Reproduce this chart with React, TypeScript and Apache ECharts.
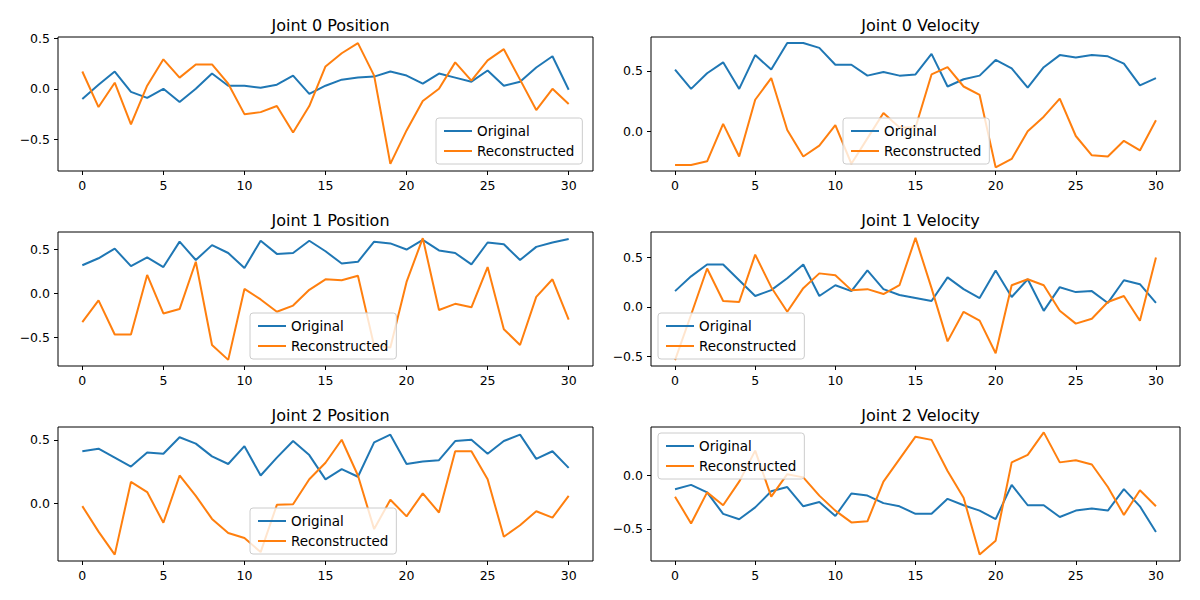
import { useEffect, useRef } from "react";
import * as echarts from "echarts";

const titles = ["Joint 0 Position", "Joint 0 Velocity", "Joint 1 Position", "Joint 1 Velocity", "Joint 2 Position", "Joint 2 Velocity"];
const xTicks = [0, 5, 10, 15, 20, 25, 30];

const j0PosOrig = [-0.10, 0.04, 0.17, -0.03, -0.09, 0.00, -0.13, 0.00, 0.15, 0.03, 0.03, 0.01, 0.04, 0.13, -0.05, 0.03, 0.09, 0.11, 0.12, 0.17, 0.13, 0.05, 0.15, 0.11, 0.07, 0.18, 0.03, 0.07, 0.21, 0.32, -0.01];
const j0PosRec = [0.17, -0.18, 0.06, -0.35, 0.03, 0.29, 0.11, 0.24, 0.24, 0.05, -0.25, -0.23, -0.17, -0.43, -0.17, 0.22, 0.35, 0.45, 0.13, -0.74, -0.41, -0.12, 0.00, 0.26, 0.08, 0.28, 0.39, 0.09, -0.21, 0.00, -0.15];
const j0VelOrig = [0.51, 0.35, 0.48, 0.57, 0.35, 0.63, 0.51, 0.73, 0.73, 0.69, 0.55, 0.55, 0.46, 0.49, 0.46, 0.47, 0.64, 0.37, 0.43, 0.46, 0.59, 0.52, 0.36, 0.53, 0.63, 0.61, 0.63, 0.62, 0.56, 0.38, 0.44];
const j0VelRec = [-0.28, -0.28, -0.25, 0.06, -0.21, 0.26, 0.44, 0.01, -0.21, -0.12, 0.05, -0.27, -0.06, 0.15, 0.03, 0.03, 0.47, 0.53, 0.37, 0.30, -0.30, -0.23, 0.00, 0.12, 0.27, -0.04, -0.20, -0.21, -0.08, -0.16, 0.09];
const j1PosOrig = [0.32, 0.40, 0.51, 0.31, 0.41, 0.30, 0.59, 0.38, 0.55, 0.46, 0.29, 0.60, 0.45, 0.46, 0.60, 0.48, 0.34, 0.36, 0.59, 0.57, 0.50, 0.61, 0.49, 0.46, 0.33, 0.58, 0.56, 0.38, 0.53, 0.58, 0.62];
const j1PosRec = [-0.33, -0.08, -0.47, -0.47, 0.21, -0.23, -0.18, 0.36, -0.59, -0.76, 0.05, -0.07, -0.21, -0.14, 0.04, 0.16, 0.15, 0.20, -0.60, -0.62, 0.13, 0.63, -0.19, -0.12, -0.16, 0.30, -0.41, -0.59, -0.04, 0.16, -0.30];
const j1VelOrig = [0.16, 0.31, 0.43, 0.43, 0.27, 0.11, 0.17, 0.29, 0.43, 0.11, 0.22, 0.16, 0.37, 0.18, 0.12, 0.09, 0.06, 0.30, 0.18, 0.09, 0.37, 0.10, 0.28, -0.04, 0.20, 0.15, 0.16, 0.04, 0.27, 0.23, 0.04];
const j1VelRec = [-0.54, -0.08, 0.39, 0.06, 0.05, 0.53, 0.20, -0.05, 0.19, 0.34, 0.32, 0.17, 0.18, 0.13, 0.22, 0.70, 0.19, -0.35, -0.05, -0.14, -0.47, 0.22, 0.28, 0.22, -0.04, -0.17, -0.12, 0.05, 0.11, -0.14, 0.50];
const j2PosOrig = [0.41, 0.43, 0.36, 0.29, 0.40, 0.39, 0.52, 0.47, 0.37, 0.31, 0.45, 0.22, 0.36, 0.49, 0.38, 0.19, 0.27, 0.21, 0.48, 0.54, 0.31, 0.33, 0.34, 0.49, 0.50, 0.39, 0.49, 0.54, 0.35, 0.41, 0.28];
const j2PosRec = [-0.02, -0.22, -0.40, 0.17, 0.09, -0.15, 0.22, 0.06, -0.12, -0.23, -0.27, -0.38, -0.01, -0.005, 0.19, 0.32, 0.50, 0.22, -0.20, 0.03, -0.10, 0.08, -0.07, 0.41, 0.41, 0.19, -0.26, -0.17, -0.06, -0.11, 0.06];
const j2VelOrig = [-0.13, -0.09, -0.16, -0.36, -0.41, -0.30, -0.15, -0.11, -0.29, -0.25, -0.38, -0.17, -0.19, -0.26, -0.29, -0.36, -0.36, -0.22, -0.28, -0.33, -0.41, -0.09, -0.28, -0.28, -0.39, -0.33, -0.31, -0.33, -0.13, -0.29, -0.53];
const j2VelRec = [-0.20, -0.45, -0.16, -0.28, -0.06, 0.23, -0.20, 0.01, -0.02, -0.19, -0.33, -0.44, -0.43, -0.06, 0.15, 0.36, 0.33, 0.04, -0.21, -0.74, -0.61, 0.12, 0.19, 0.40, 0.12, 0.14, 0.10, -0.11, -0.37, -0.14, -0.29];

const originals = [j0PosOrig, j0VelOrig, j1PosOrig, j1VelOrig, j2PosOrig, j2VelOrig];
const recons = [j0PosRec, j0VelRec, j1PosRec, j1VelRec, j2PosRec, j2VelRec];
const yMins = [-0.81, -0.33, -0.83, -0.60, -0.45, -0.80];
const yMaxs = [0.51, 0.78, 0.70, 0.76, 0.60, 0.45];
const yTicks = [[-0.5, 0, 0.5], [0, 0.5], [-0.5, 0, 0.5], [-0.5, 0, 0.5], [0, 0.5], [-0.5, 0]];

const lefts = [58, 651];
const widths = [535, 529];
const tops = [37, 232, 427];
const gridHeight = 134;
// legend box corners (left, top) per panel
const legendPos = [[436, 118], [843, 118], [250, 313], [658, 313], [250, 508], [658, 433]];

const fmt = (v: number) => (Math.abs(v) < 1e-9 ? "0.0" : v.toFixed(1).replace("-", "\u2212"));
const font = "DejaVu Sans";

function App() {
  const chartRef = useRef<HTMLDivElement>(null);
  useEffect(() => {
    document.body.style.margin = "0";
    const chart = echarts.init(chartRef.current, null, { renderer: "svg" });
    const grid: any[] = [];
    const xAxis: any[] = [];
    const yAxis: any[] = [];
    const series: any[] = [];
    const title: any[] = [];
    const legend: any[] = [];
    titles.forEach((t, i) => {
      const col = i % 2;
      const row = Math.floor(i / 2);
      grid.push({
        left: lefts[col], top: tops[row], width: widths[col], height: gridHeight,
        show: true, borderColor: "#000", borderWidth: 1, containLabel: false,
      });
      title.push({
        text: t, left: lefts[col] + widths[col] / 2, top: tops[row] - 25, textAlign: "center",
        textStyle: { fontFamily: font, fontSize: 16, fontWeight: "normal", color: "#000" },
      });
      xAxis.push({
        type: "value", gridIndex: i, min: -1.5, max: 31.5,
        axisLine: { show: false, onZero: false }, splitLine: { show: false },
        axisTick: { show: true, customValues: xTicks, length: 4, lineStyle: { color: "#000" } },
        axisLabel: { customValues: xTicks, color: "#000", fontFamily: font, fontSize: 12.5, margin: 8 },
      });
      yAxis.push({
        type: "value", gridIndex: i, min: yMins[i], max: yMaxs[i],
        axisLine: { show: false, onZero: false }, splitLine: { show: false },
        axisTick: { show: true, customValues: yTicks[i], length: 4, lineStyle: { color: "#000" } },
        axisLabel: { customValues: yTicks[i], color: "#000", fontFamily: font, fontSize: 12.5, margin: 8, formatter: fmt },
      });
      series.push({
        name: "Original", type: "line", xAxisIndex: i, yAxisIndex: i, showSymbol: false,
        data: originals[i].map((v, k) => [k, v]), color: "#1f77b4", lineStyle: { width: 2 },
      });
      series.push({
        name: "Reconstructed", type: "line", xAxisIndex: i, yAxisIndex: i, showSymbol: false,
        data: recons[i].map((v, k) => [k, v]), color: "#ff7f0e", lineStyle: { width: 2 },
      });
      legend.push({
        data: ["Original", "Reconstructed"], orient: "vertical",
        left: legendPos[i][0], top: legendPos[i][1], width: 150,
        padding: [6, 8, 6, 8], itemGap: 6, itemWidth: 28, itemHeight: 2, icon: "rect",
        backgroundColor: "rgba(255,255,255,0.8)", borderColor: "#ccc", borderWidth: 1, borderRadius: 3,
        textStyle: { fontFamily: font, fontSize: 13.5, color: "#000" }, selectedMode: false,
      });
    });
    chart.setOption({
      animation: false, backgroundColor: "#fff",
      title, grid, xAxis, yAxis, series, legend,
    });
    return () => chart.dispose();
  }, []);
  return <div ref={chartRef} style={{ width: 1200, height: 600 }} />;
}

export default App;
